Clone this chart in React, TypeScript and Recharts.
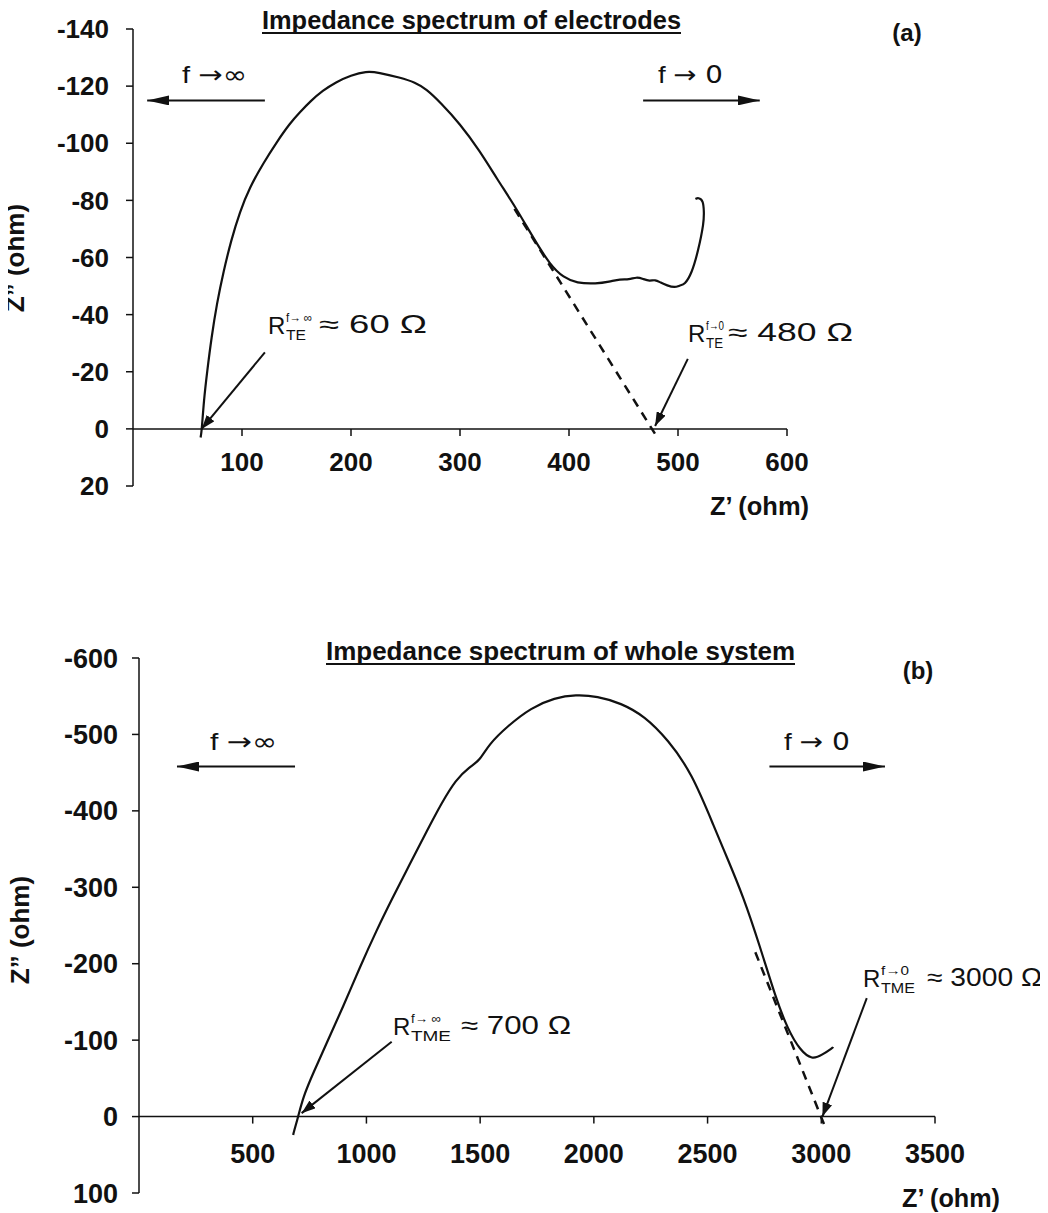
import React from "react";
import { LineChart, Line, XAxis, YAxis, ReferenceLine } from "recharts";

const FONT = "'Liberation Sans', Arial, Helvetica, sans-serif";
const SYM = "'DejaVu Sans', sans-serif";

// ---- (a) impedance spectrum of electrodes ----
const elecZre = [62, 63, 65, 68, 72, 77, 83, 90, 98, 107, 119.5, 132, 144, 153, 163, 174, 186, 200, 214, 225, 245, 259, 269, 282, 300, 318, 334, 352, 367, 383, 395, 407, 425, 437, 447, 455, 462, 468, 474, 479, 484, 490, 497, 502, 506, 512.5, 518.6, 523.8, 523.8, 523.2, 518.6, 516];
const elecZim = [3, 1, -10, -20, -32, -44, -55, -66, -76, -84.5, -93, -100.5, -107, -110.8, -114.8, -118.4, -121.4, -123.8, -125.2, -124.8, -123, -121.3, -119, -114.3, -106.8, -97.4, -87.5, -77, -67, -57.2, -53, -51, -50.8, -51.5, -52.5, -52.2, -53.2, -52.5, -51.7, -52.3, -51.2, -50.2, -49.4, -50.3, -50.5, -54.3, -62.4, -72.3, -76, -80, -81, -80.5];
const elecTangentZre = [350, 481];
const elecTangentZim = [-77, 3];
const elecXTicks = [100, 200, 300, 400, 500, 600];
const elecYTicks = [-140, -120, -100, -80, -60, -40, -20, 0, 20];
// annotation arrows (data coords): [fromX, fromY, toX, toY]
const elecArrows = [
  [121, -26.8, 63, 0],
  [509, -24.5, 479, -1],
];
const elecFreqArrows = [
  [121, -115, 13, -115],
  [468, -115, 575, -115],
];

// ---- (b) impedance spectrum of whole system ----
const sysZre = [678, 680, 700, 722, 766, 825, 898, 972, 1045, 1111, 1190, 1268, 1330, 1393, 1455, 1496, 1538, 1621, 1724, 1828, 1921, 2015, 2119, 2223, 2326, 2430, 2533, 2584, 2657, 2730, 2800, 2853, 2906, 2960, 3005, 3050, 3052];
const sysZim = [24, 21, 0, -26, -57, -96, -144, -196, -244, -284, -330, -375, -410, -441, -458, -465, -487, -511, -535, -548, -552, -550, -541, -524, -493, -450, -376, -340, -288, -223, -155, -114, -87, -74, -81, -90, -91];
const sysTangentZre = [2710, 3012];
const sysTangentZim = [-215, 10];
const sysXTicks = [500, 1000, 1500, 2000, 2500, 3000, 3500];
const sysYTicks = [-600, -500, -400, -300, -200, -100, 0, 100];
const sysArrows = [
  [1111, -98, 715, -4.5],
  [3200, -155, 3005, 0],
];
const sysFreqArrows = [
  [686, -458, 167, -458],
  [2772, -458, 3280, -458],
];

const zip = (xs: number[], ys: number[]) => xs.map((x, i) => ({ x, y: ys[i] }));

function makeXTick(shift: number, labelDy: number, fontSize: number) {
  return function XTick(props: any) {
    const { x, y, payload } = props;
    const y0 = y - shift;
    return (
      <g>
        <line x1={x} y1={y0} x2={x} y2={y0 + 7} stroke="#111" strokeWidth={1.5} />
        <text x={x} y={y0 + labelDy} textAnchor="middle" fontSize={fontSize} fontWeight={700} fill="#111" fontFamily={FONT}>
          {payload.value}
        </text>
      </g>
    );
  };
}

interface PanelProps {
  width: number;
  height: number;
  margin: { top: number; right: number; bottom: number; left: number };
  xDomain: [number, number];
  yDomain: [number, number];
  xTicks: number[];
  yTicks: number[];
  curve: { x: number; y: number }[];
  tangent: { x: number; y: number }[];
  arrows: number[][];
  freqArrows: number[][];
  tickFont: number;
  labelDy: number;
  tickMargin: number;
}

function Panel(p: PanelProps) {
  const plotH = p.height - p.margin.top - p.margin.bottom - 1;
  const shift = (plotH * p.yDomain[1]) / (p.yDomain[1] - p.yDomain[0]);
  return (
    <LineChart width={p.width} height={p.height} margin={p.margin}>
      <XAxis
        dataKey="x"
        type="number"
        domain={p.xDomain}
        ticks={p.xTicks}
        interval={0}
        height={1}
        axisLine={false}
        tickLine={false}
        tickSize={0}
        tickMargin={0}
        allowDataOverflow
        tick={makeXTick(shift, p.labelDy, p.tickFont)}
      />
      <YAxis
        dataKey="y"
        type="number"
        reversed
        width={80}
        domain={p.yDomain}
        ticks={p.yTicks}
        interval={0}
        allowDataOverflow
        tickSize={7}
        tickMargin={p.tickMargin}
        axisLine={{ stroke: "#111", strokeWidth: 1.5 }}
        tickLine={{ stroke: "#111", strokeWidth: 1.5 }}
        tick={{ fill: "#111", fontSize: p.tickFont, fontWeight: 700, fontFamily: FONT }}
      />
      <ReferenceLine y={0} stroke="#111" strokeWidth={1.5} />
      {p.freqArrows.map((a, i) => (
        <ReferenceLine
          key={`f${i}`}
          ifOverflow="visible"
          segment={[{ x: a[0], y: a[1] }, { x: a[2], y: a[3] }]}
          stroke="#111"
          strokeWidth={2}
          markerEnd="url(#arrowBig)"
        />
      ))}
      {p.arrows.map((a, i) => (
        <ReferenceLine
          key={`a${i}`}
          ifOverflow="visible"
          segment={[{ x: a[0], y: a[1] }, { x: a[2], y: a[3] }]}
          stroke="#111"
          strokeWidth={2}
          markerEnd="url(#arrowSmall)"
        />
      ))}
      <Line
        data={p.tangent}
        dataKey="y"
        type="linear"
        stroke="#111"
        strokeWidth={2.5}
        strokeDasharray="9 7"
        dot={false}
        isAnimationActive={false}
      />
      <Line
        data={p.curve}
        dataKey="y"
        type="basis"
        stroke="#111"
        strokeWidth={2.2}
        dot={false}
        isAnimationActive={false}
      />
    </LineChart>
  );
}

const txt = { fontFamily: FONT, fill: "#111" } as const;

function RLabel({ x, y, sup, supLen, sub, subLen, rest, restX, restLen }: any) {
  return (
    <g style={txt}>
      <text x={x} y={y} fontSize={24}>R</text>
      <text x={x + 18} y={y - 12} fontSize={13} textLength={supLen} lengthAdjust="spacingAndGlyphs">{sup}</text>
      <text x={x + 18} y={y + 6} fontSize={14} textLength={subLen} lengthAdjust="spacingAndGlyphs">{sub}</text>
      <text x={restX} y={y - 1} fontSize={25} textLength={restLen} lengthAdjust="spacingAndGlyphs">{rest}</text>
    </g>
  );
}

function FreqLabel({ x, y, len, target }: { x: number; y: number; len: number; target: string }) {
  return (
    <text x={x} y={y} fontSize={24} textLength={len} lengthAdjust="spacingAndGlyphs">
      <tspan>f </tspan>
      <tspan fontFamily={SYM}>{target === "0" ? "→ 0" : "→∞"}</tspan>
    </text>
  );
}

export default function App() {
  const elecCurve = zip(elecZre, elecZim);
  const elecTangent = zip(elecTangentZre, elecTangentZim);
  const sysCurve = zip(sysZre, sysZim);
  const sysTangent = zip(sysTangentZre, sysTangentZim);

  return (
    <div style={{ position: "relative", width: 1040, height: 1205, background: "#fff" }}>
      <svg width={0} height={0} style={{ position: "absolute" }}>
        <defs>
          <marker id="arrowBig" markerUnits="userSpaceOnUse" markerWidth={22} markerHeight={10} refX={22} refY={5} orient="auto">
            <path d="M0,0 L22,5 L0,10 Z" fill="#111" />
          </marker>
          <marker id="arrowSmall" markerUnits="userSpaceOnUse" markerWidth={14} markerHeight={10} refX={14} refY={5} orient="auto">
            <path d="M0,0 L14,5 L0,10 Z" fill="#111" />
          </marker>
        </defs>
      </svg>

      <div style={{ position: "absolute", left: 0, top: 0 }}>
        <Panel
          width={1040}
          height={560}
          margin={{ top: 21, right: 261, bottom: 81, left: 45 }}
          xDomain={[0, 600]}
          yDomain={[-140, 20]}
          xTicks={elecXTicks}
          yTicks={elecYTicks}
          curve={elecCurve}
          tangent={elecTangent}
          arrows={elecArrows}
          freqArrows={elecFreqArrows}
          tickFont={26}
          labelDy={42}
          tickMargin={17}
        />
      </div>
      <div style={{ position: "absolute", left: 0, top: 560 }}>
        <Panel
          width={1040}
          height={645}
          margin={{ top: 90, right: 113, bottom: 19, left: 51 }}
          xDomain={[0, 3500]}
          yDomain={[-600, 100]}
          xTicks={sysXTicks}
          yTicks={sysYTicks}
          curve={sysCurve}
          tangent={sysTangent}
          arrows={sysArrows}
          freqArrows={sysFreqArrows}
          tickFont={27}
          labelDy={46}
          tickMargin={14}
        />
      </div>

      <svg width={1040} height={1205} style={{ position: "absolute", left: 0, top: 0, overflow: "visible", pointerEvents: "none" }}>
        <g style={txt}>
          {/* panel (a) */}
          <text x={254} y={21} fontSize={25} fontWeight={700} textLength={419} lengthAdjust="spacingAndGlyphs">Impedance spectrum of electrodes</text>
          <line x1={254} y1={25} x2={673} y2={25} stroke="#111" strokeWidth={2} />
          <text x={899} y={33} fontSize={24} fontWeight={700} textAnchor="middle">(a)</text>
          <FreqLabel x={174} y={75} len={65} target="inf" />
          <FreqLabel x={650} y={75} len={65} target="0" />
          <text x={0} y={0} fontSize={26} fontWeight={700} textAnchor="middle" transform="translate(16,250) rotate(-90)">Z” (ohm)</text>
          <text x={702} y={507} fontSize={26} fontWeight={700} textLength={99} lengthAdjust="spacingAndGlyphs">Z’ (ohm)</text>

          {/* panel (b) */}
          <text x={318} y={652} fontSize={25} fontWeight={700} textLength={469} lengthAdjust="spacingAndGlyphs">Impedance spectrum of whole system</text>
          <line x1={318} y1={656} x2={787} y2={656} stroke="#111" strokeWidth={2} />
          <text x={910} y={671} fontSize={24} fontWeight={700} textAnchor="middle">(b)</text>
          <FreqLabel x={202} y={742} len={67} target="inf" />
          <FreqLabel x={776} y={742} len={66} target="0" />
          <text x={0} y={0} fontSize={26} fontWeight={700} textAnchor="middle" transform="translate(21,922) rotate(-90)">Z” (ohm)</text>
          <text x={894} y={1199} fontSize={26} fontWeight={700} textLength={98} lengthAdjust="spacingAndGlyphs">Z’ (ohm)</text>
        </g>
        <RLabel x={260} y={326} sup="f→ ∞" supLen={26} sub="TE" subLen={20} rest="≈ 60 Ω" restX={311} restLen={108} />
        <RLabel x={680} y={334} sup="f→0" supLen={18} sub="TE" subLen={17} rest="≈ 480 Ω" restX={720} restLen={125} />
        <RLabel x={385} y={1027} sup="f→ ∞" supLen={30} sub="TME" subLen={40} rest="≈ 700 Ω" restX={453} restLen={110} />
        <RLabel x={855} y={979} sup="f→0" supLen={28} sub="TME" subLen={34} rest="≈ 3000 Ω" restX={919} restLen={115} />
      </svg>
    </div>
  );
}
